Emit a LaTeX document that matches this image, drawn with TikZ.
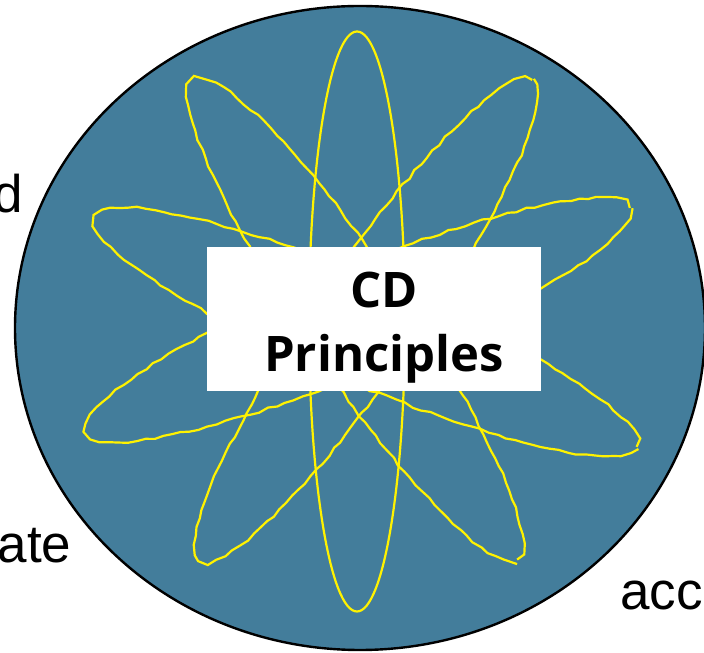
\documentclass[tikz,border=0pt]{standalone}
\usepackage{fontspec}
\setmainfont{Liberation Sans}
\newfontfamily\boxfont{Open Sans}
\usepackage{tikz}
\usetikzlibrary{decorations.pathmorphing}
\definecolor{discblue}{RGB}{67,125,155}
\tikzset{disc/.style={draw=black, line width=2.4pt, fill=discblue}}
\tikzset{petal/.style={draw=yellow, line width=2.2pt}}
\tikzset{rough petal/.style={petal, decorate, decoration={random steps, segment length=9pt, amplitude=1.2pt}}}
\tikzset{title box/.style={fill=white, inner sep=0, minimum width=334pt, minimum height=144pt}}
\tikzset{title text/.style={font=\boxfont\bfseries\fontsize{49}{64}\selectfont, inner sep=0, anchor=base}}
\tikzset{side word/.style={font=\fontsize{53}{60}\selectfont, inner sep=0}}

\begin{document}
\begin{tikzpicture}[x=1pt, y=1pt]
  \useasboundingbox (0,0) rectangle (704,653);
  \pgfmathsetseed{7}

  \draw[disc] (360,325) ellipse [x radius=345pt, y radius=322pt];

  \draw[petal] (357,331.5) ellipse [x radius=48pt, y radius=290pt];
  \draw[rough petal, rotate around={-56:(355.5,333)}] (355.5,333) ellipse [x radius=289pt, y radius=52pt];
  \draw[rough petal, rotate around={55.3:(366,333)}] (366,333) ellipse [x radius=292pt, y radius=52pt];
  \draw[rough petal, rotate around={-23:(366,321)}] (366,321) ellipse [x radius=294pt, y radius=52pt];
  \draw[rough petal, rotate around={22.4:(358,333)}] (358,333) ellipse [x radius=294pt, y radius=52pt];

  \node[title box] at (374,334) (box) {};
  \node[title text] at (384,345) (cd) {CD};
  \node[title text] at (384,281) (principles) {Principles};

  \node[side word, anchor=base east] at (23,440) (and) {d};
  \node[side word, anchor=base east] at (71.5,90) (create) {ate};
  \node[side word, anchor=base west] at (620,43) (accept) {acc};
\end{tikzpicture}
\end{document}
